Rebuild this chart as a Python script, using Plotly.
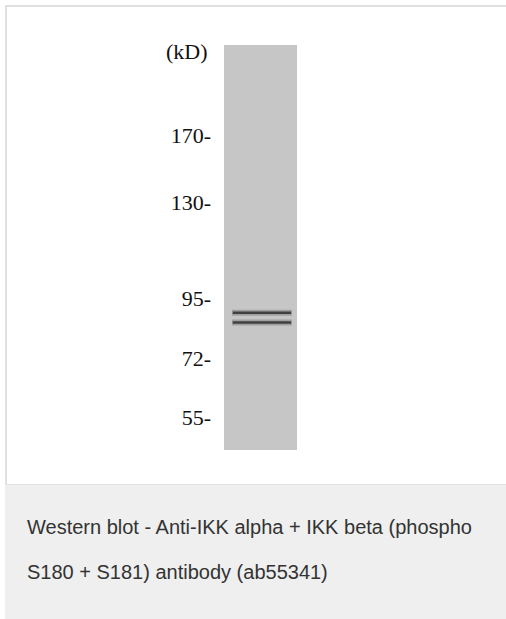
import plotly.graph_objects as go

# ---- data ----
marker_kd = [170, 130, 95, 72, 55]
# relative migration (0 = top of lane, 1 = bottom of lane)
marker_rf = [0.222, 0.388, 0.625, 0.773, 0.919]
band_rf = [0.661, 0.685]
band_label = ["IKK beta (p-S181)", "IKK alpha (p-S180)"]
lane_names = ["Lane 1"]
caption_lines = [
    "Western blot - Anti-IKK alpha + IKK beta (phospho",
    "S180 + S181) antibody (ab55341)",
]

W, H = 506, 619
def px_x(p):
    return p / W
def px_y(p):
    return 1 - p / H

fig = go.Figure()

# lane
fig.add_trace(go.Bar(
    x=[0], y=[1], base=[0], width=1,
    marker=dict(color="#c6c6c6", line=dict(width=0)),
    hoverinfo="skip", showlegend=False, name=lane_names[0],
))

# bands (soft halo + dark core)
for rf, lab in zip(band_rf, band_label):
    fig.add_trace(go.Scatter(
        x=[-0.39, 0.43], y=[rf, rf], mode="lines",
        line=dict(color="rgba(70,70,70,0.3)", width=6),
        hoverinfo="skip", showlegend=False,
    ))
    fig.add_trace(go.Scatter(
        x=[-0.38, 0.42], y=[rf, rf], mode="lines",
        line=dict(color="#404040", width=2.5),
        name=lab, showlegend=False,
    ))

shapes = [
    # caption panel
    dict(type="rect", xref="paper", yref="paper", layer="below",
         x0=px_x(5), x1=1, y0=px_y(619), y1=px_y(484),
         fillcolor="#eeefee", line=dict(width=0)),
    dict(type="line", xref="paper", yref="paper",
         x0=px_x(5), x1=1, y0=px_y(484.5), y1=px_y(484.5),
         line=dict(color="#e2e2e2", width=1)),
    # frame
    dict(type="line", xref="paper", yref="paper",
         x0=px_x(5), x1=1, y0=px_y(6), y1=px_y(6),
         line=dict(color="#e0e0e0", width=2)),
    dict(type="line", xref="paper", yref="paper",
         x0=px_x(6), x1=px_x(6), y0=px_y(5), y1=px_y(484),
         line=dict(color="#e0e0e0", width=2)),
]

annotations = [
    dict(text="(kD)", xref="x", yref="y", x=-0.5, y=0.017,
         xanchor="right", yanchor="middle", xshift=-14, showarrow=False,
         font=dict(family="Liberation Serif", size=22, color="#111111")),
]
for i, line in enumerate(caption_lines):
    annotations.append(dict(
        text=line, xref="paper", yref="paper",
        x=px_x(25), y=px_y(527 + 45 * i),
        xanchor="left", yanchor="middle", showarrow=False,
        font=dict(family="Liberation Sans", size=20, color="#333333"),
    ))

fig.update_layout(
    width=W, height=H,
    margin=dict(l=0, r=0, t=0, b=0),
    paper_bgcolor="white", plot_bgcolor="rgba(0,0,0,0)",
    xaxis=dict(range=[-3.568, 3.363], visible=False, fixedrange=True),
    yaxis=dict(
        domain=[px_y(450), px_y(45)], range=[1, 0],
        anchor="free", position=px_x(224),
        tickvals=marker_rf, ticktext=[f"{k}-" for k in marker_kd],
        ticks="", showgrid=False, zeroline=False, showline=False,
        ticklabelstandoff=13, fixedrange=True,
        tickfont=dict(family="Liberation Serif", size=22, color="#111111"),
    ),
    shapes=shapes, annotations=annotations,
    bargap=0, showlegend=False,
)

fig.write_html(
    "out.html",
    config={"displayModeBar": False},
    post_script="document.body.style.margin='0';document.body.style.overflow='hidden';",
)
